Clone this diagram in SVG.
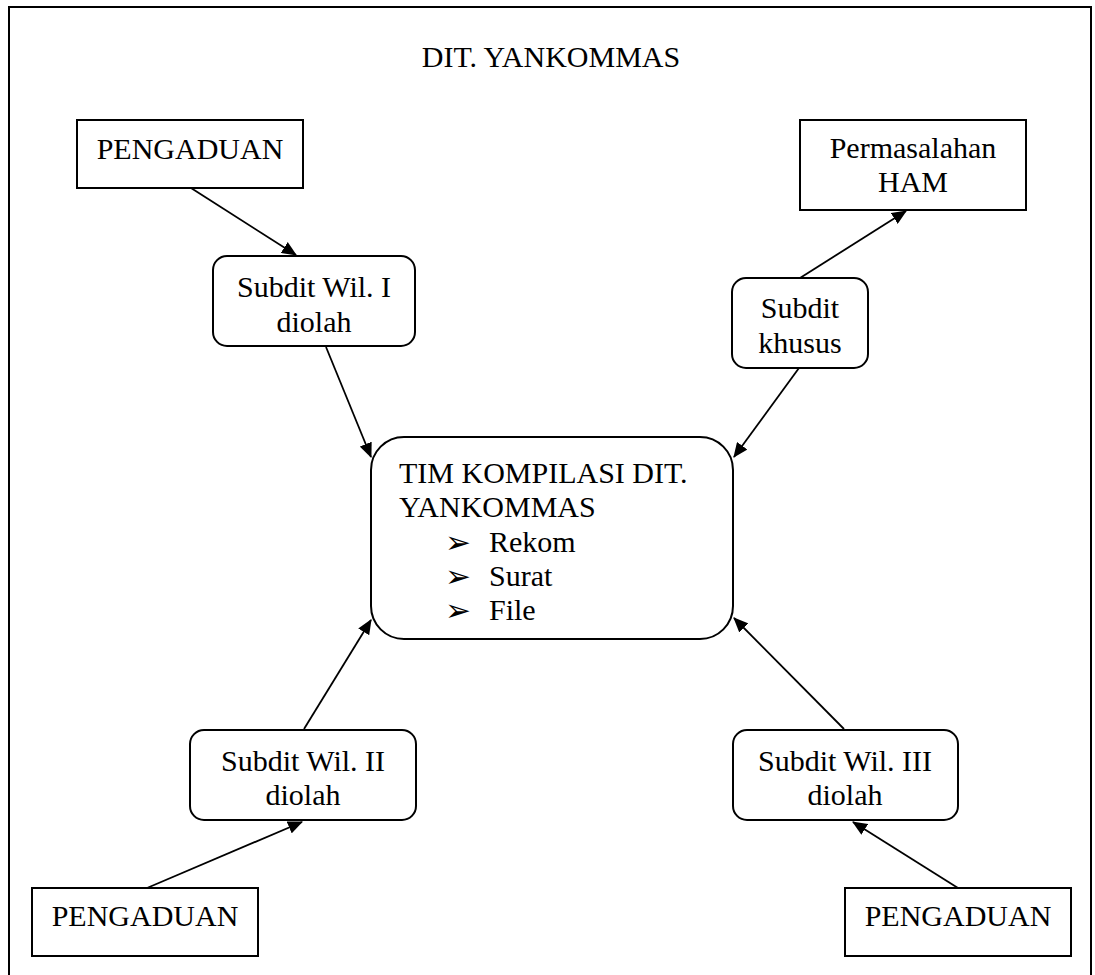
<svg xmlns="http://www.w3.org/2000/svg" width="1095" height="975" viewBox="0 0 1095 975">
<defs>
<style>
.box{fill:#fff;stroke:#000;stroke-width:2}
.t{font-family:"Liberation Serif","Times New Roman",serif;font-size:30px;fill:#000}
.c{text-anchor:middle}
.ln{stroke:#000;stroke-width:1.8;fill:none;marker-end:url(#ah)}
.bul{font-family:"DejaVu Sans",sans-serif;font-size:31px;fill:#000}
</style>
<marker id="ah" viewBox="0 0 14 12" refX="13" refY="6" markerWidth="15" markerHeight="13" markerUnits="userSpaceOnUse" orient="auto">
<path d="M0,0 L14,6 L0,12 Z" fill="#000"/>
</marker>
</defs>
<rect width="1095" height="975" fill="#fff"/>
<path d="M9,985 L9,7 L1091,7 L1091,985" fill="none" stroke="#000" stroke-width="2"/>
<text class="t c" x="551" y="67">DIT. YANKOMMAS</text>

<g id="connectors">
<line class="ln" x1="191" y1="188" x2="296" y2="255"/>
<line class="ln" x1="326" y1="347" x2="371" y2="457"/>
<line class="ln" x1="800" y1="278" x2="906" y2="211"/>
<line class="ln" x1="799" y1="368" x2="734" y2="457"/>
<line class="ln" x1="304" y1="729" x2="371" y2="620"/>
<line class="ln" x1="147" y1="888" x2="302" y2="822"/>
<line class="ln" x1="844" y1="729" x2="734" y2="618"/>
<line class="ln" x1="958" y1="888" x2="853" y2="822"/>
</g>

<g id="pengaduan-tl">
<rect class="box" x="77" y="120" width="226" height="68"/>
<text class="t c" x="190" y="159">PENGADUAN</text>
</g>
<g id="permasalahan-ham">
<rect class="box" x="800" y="120" width="226" height="90"/>
<text class="t c" x="913" y="158">Permasalahan</text>
<text class="t c" x="913" y="192">HAM</text>
</g>
<g id="subdit-wil-1">
<rect class="box" x="213" y="256" width="202" height="90" rx="14"/>
<text class="t c" x="314" y="297">Subdit Wil. I</text>
<text class="t c" x="314" y="332">diolah</text>
</g>
<g id="subdit-khusus">
<rect class="box" x="732" y="278" width="136" height="90" rx="14"/>
<text class="t c" x="800" y="318">Subdit</text>
<text class="t c" x="800" y="353">khusus</text>
</g>
<g id="tim-kompilasi">
<rect class="box" x="371" y="437" width="362" height="202" rx="33"/>
<text class="t" x="399" y="483">TIM KOMPILASI DIT.</text>
<text class="t" x="399" y="517">YANKOMMAS</text>
<text class="bul" x="445" y="553">➢</text>
<text class="t" x="489" y="552">Rekom</text>
<text class="bul" x="445" y="587">➢</text>
<text class="t" x="489" y="586">Surat</text>
<text class="bul" x="445" y="621">➢</text>
<text class="t" x="489" y="620">File</text>
</g>
<g id="subdit-wil-2">
<rect class="box" x="190" y="730" width="226" height="90" rx="14"/>
<text class="t c" x="303" y="771">Subdit Wil. II</text>
<text class="t c" x="303" y="805">diolah</text>
</g>
<g id="subdit-wil-3">
<rect class="box" x="733" y="730" width="225" height="90" rx="14"/>
<text class="t c" x="845" y="771">Subdit Wil. III</text>
<text class="t c" x="845" y="805">diolah</text>
</g>
<g id="pengaduan-bl">
<rect class="box" x="32" y="888" width="226" height="68"/>
<text class="t c" x="145" y="926">PENGADUAN</text>
</g>
<g id="pengaduan-br">
<rect class="box" x="845" y="888" width="226" height="68"/>
<text class="t c" x="958" y="926">PENGADUAN</text>
</g>
</svg>
